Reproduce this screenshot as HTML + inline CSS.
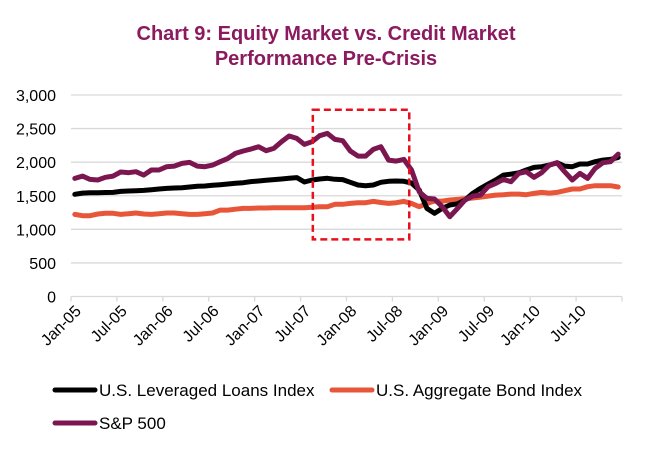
<!DOCTYPE html>
<html><head><meta charset="utf-8"><style>
body{margin:0;background:#fff;}
svg{display:block;font-family:"Liberation Sans",Arial,sans-serif;}
</style></head><body>
<svg id="c" width="656" height="454">
<text x="326" y="40" text-anchor="middle" font-size="20" font-weight="bold" fill="#8B1A5E">Chart 9: Equity Market vs. Credit Market</text>
<text x="326" y="65" text-anchor="middle" font-size="20" font-weight="bold" fill="#8B1A5E">Performance Pre-Crisis</text>
<g id="grid"></g><g id="axes"></g><g id="series"></g><g id="box"></g>
<g>
<line x1="55" y1="390" x2="95" y2="390" stroke="#000" stroke-width="5" stroke-linecap="round"/>
<text x="99" y="396" font-size="17">U.S. Leveraged Loans Index</text>
<line x1="332" y1="390" x2="372" y2="390" stroke="#E8563A" stroke-width="5" stroke-linecap="round"/>
<text x="376" y="396" font-size="17">U.S. Aggregate Bond Index</text>
<line x1="55" y1="423" x2="95" y2="423" stroke="#7B1650" stroke-width="5" stroke-linecap="round"/>
<text x="99" y="429" font-size="17">S&amp;P 500</text>
</g>
</svg>
<script>
const months = ["Jan-05","Jul-05","Jan-06","Jul-06","Jan-07","Jul-07","Jan-08","Jul-08","Jan-09","Jul-09","Jan-10","Jul-10"];
const yTicks = [0,500,1000,1500,2000,2500,3000];
const loans = [1521,1540,1545,1545,1548,1550,1565,1570,1575,1580,1590,1600,1610,1615,1620,1630,1640,1645,1655,1665,1675,1685,1695,1710,1720,1730,1740,1750,1760,1770,1705,1734,1750,1760,1745,1740,1700,1660,1650,1660,1700,1715,1720,1715,1690,1585,1312,1238,1312,1362,1380,1436,1536,1610,1674,1734,1808,1823,1840,1883,1922,1932,1957,1992,1942,1932,1972,1972,2007,2031,2041,2071];
const bonds = [1223,1203,1203,1228,1238,1238,1223,1233,1243,1228,1223,1233,1243,1243,1233,1223,1223,1233,1243,1287,1287,1300,1312,1312,1318,1318,1322,1322,1322,1322,1322,1330,1337,1337,1372,1372,1386,1396,1396,1416,1400,1386,1396,1416,1386,1337,1386,1421,1421,1436,1446,1456,1466,1480,1495,1510,1515,1525,1525,1515,1535,1550,1540,1550,1575,1600,1600,1634,1650,1650,1650,1630];
const sp500 = [1759,1793,1744,1734,1774,1793,1853,1843,1858,1808,1883,1883,1932,1942,1982,1997,1942,1932,1957,2007,2056,2131,2166,2195,2230,2170,2205,2304,2389,2354,2265,2304,2394,2429,2339,2319,2166,2091,2091,2190,2230,2031,2016,2041,1883,1560,1461,1451,1337,1188,1312,1436,1496,1510,1634,1684,1744,1709,1833,1858,1774,1843,1957,1992,1858,1734,1833,1759,1908,1992,2007,2120];
const boxRange = {startMonth:31.6, endMonth:44.2, low:850, high:2780};

const NS="http://www.w3.org/2000/svg";
const x0=71, x1=622, yBase=296.5, yTop=95, n=72;
const xs=i=>x0+(x1-x0)/n*(i+0.5);
const xEdge=i=>x0+(x1-x0)/n*i;
const ys=v=>yBase-(v/3000)*(yBase-yTop);
function mk(t,a,p){const e=document.createElementNS(NS,t);for(const k in a)e.setAttribute(k,a[k]);p.appendChild(e);return e;}
const grid=document.getElementById('grid'),axes=document.getElementById('axes');
yTicks.forEach(v=>{
  if(v>0){const l=mk('line',{x1:x0,x2:x1,y1:ys(v),y2:ys(v),stroke:'#d9d9d9','stroke-width':1.3},grid);
  
  }
  const t=mk('text',{x:56,y:ys(v)+6,'text-anchor':'end','font-size':16},axes);
  t.textContent=v.toLocaleString('en-US');
  
  
});
const ax=mk('line',{x1:x0,x2:x1,y1:yBase,y2:yBase,stroke:'#d9d9d9','stroke-width':1.3},axes);


for(let i=0;i<=n;i+=6){
  const tk=mk('line',{x1:xEdge(i),x2:xEdge(i),y1:yBase,y2:yBase+5,stroke:'#d9d9d9','stroke-width':1.3},axes);
  
  
}
months.forEach((m,k)=>{
  const x=xEdge(k*6)+11,y=312;
  const t=mk('text',{x:x,y:y,'text-anchor':'end','font-size':16,transform:`rotate(-45 ${x} ${y})`},axes);
  t.textContent=m;
  
  
});
const ser=document.getElementById('series');
[[bonds,'#E8563A','line-bonds'],[loans,'#000','line-loans'],[sp500,'#7B1650','line-sp500']].forEach(([d,c,nm])=>{
  const p=mk('polyline',{points:d.map((v,i)=>xs(i).toFixed(1)+','+ys(v).toFixed(1)).join(' '),fill:'none',stroke:c,'stroke-width':5,'stroke-linejoin':'round','stroke-linecap':'round'},ser);
  
  
});
const bx=xEdge(boxRange.startMonth),bx2=xEdge(boxRange.endMonth);
const r=mk('rect',{x:bx,y:ys(boxRange.high),width:bx2-bx,height:ys(boxRange.low)-ys(boxRange.high),fill:'none',stroke:'#E8101E','stroke-width':2.5,'stroke-dasharray':'7,4'},document.getElementById('box'));


</script>
</body></html>
